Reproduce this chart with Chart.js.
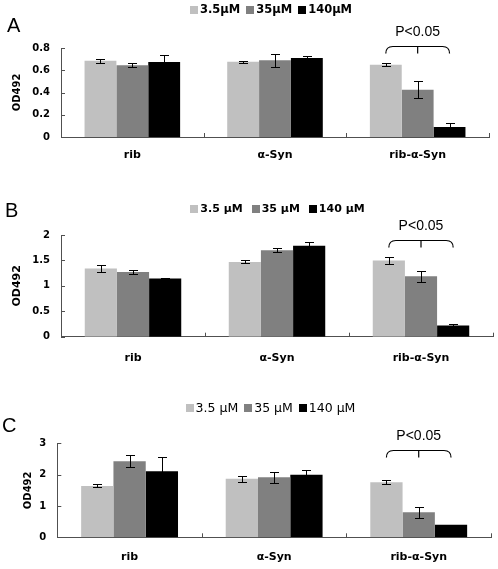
<!DOCTYPE html>
<html><head><meta charset="utf-8">
<script src="https://cdn.jsdelivr.net/npm/chart.js@4.4.0/dist/chart.umd.min.js"></script>
<style>
html,body{margin:0;padding:0;background:#fff;width:498px;height:569px;overflow:hidden;}
.panel{position:absolute;left:0;width:498px;}
.letter{position:absolute;font-family:"Liberation Sans",Arial,sans-serif;font-size:20px;color:#000;line-height:20px;}
canvas{display:block;}
</style></head><body>
<div class="panel" style="top:0;height:188px"><canvas id="cA" width="498" height="188"></canvas></div>
<div class="panel" style="top:188px;height:190px"><canvas id="cB" width="498" height="190"></canvas></div>
<div class="panel" style="top:378px;height:191px"><canvas id="cC" width="498" height="191"></canvas></div>
<div class="letter" style="left:7px;top:15px">A</div>
<div class="letter" style="left:5px;top:200px">B</div>
<div class="letter" style="left:2px;top:415px">C</div>
<script>
// ---------- data ----------
const categories = ['rib', 'α-Syn', 'rib-α-Syn'];
const seriesLabelsA = ['3.5μM', '35μM', '140μM'];
const seriesLabelsB = ['3.5 μM', '35 μM', '140 μM'];
const seriesLabelsC = ['3.5 μM', '35 μM', '140 μM'];
const yTitle = 'OD492';
const sigLabel = 'P<0.05';

// Panel A
const A_low = [0.685, 0.677, 0.650];
const A_lowErr = [0.020, 0.010, 0.012];
const A_mid = [0.645, 0.690, 0.425];
const A_midErr = [0.020, 0.060, 0.075];
const A_high = [0.675, 0.710, 0.090];
const A_highErr = [0.065, 0.022, 0.033];
const A_yTicks = [0, 0.2, 0.4, 0.6, 0.8];
const A_yTickLabels = ['0', '0.2', '0.4', '0.6', '0.8'];
const A_bracketLevel = 0.82;

// Panel B
const B_low = [1.34, 1.47, 1.50];
const B_lowErr = [0.075, 0.030, 0.075];
const B_mid = [1.27, 1.70, 1.19];
const B_midErr = [0.040, 0.040, 0.105];
const B_high = [1.145, 1.79, 0.22];
const B_highErr = [0.010, 0.080, 0.020];
const B_yTicks = [0, 0.5, 1, 1.5, 2];
const B_yTickLabels = ['0', '0.5', '1', '1.5', '2'];
const B_bracketLevel = 1.90;

// Panel C
const C_low = [1.64, 1.87, 1.76];
const C_lowErr = [0.05, 0.10, 0.06];
const C_mid = [2.43, 1.92, 0.80];
const C_midErr = [0.20, 0.18, 0.18];
const C_high = [2.11, 2.00, 0.40];
const C_highErr = [0.45, 0.14, 0.00];
const C_yTicks = [0, 1, 2, 3];
const C_yTickLabels = ['0', '1', '2', '3'];
const C_bracketLevel = 2.79;

// ---------- styling ----------
const colors = ['#c0c0c0', '#808080', '#000000'];
const axisColor = '#505050';
const FONT = '"DejaVu Sans", Verdana, sans-serif';

const errorBarPlugin = {
  id: 'errorBars',
  afterDatasetsDraw(chart) {
    const ctx = chart.ctx, y = chart.scales.y;
    ctx.save();
    ctx.strokeStyle = '#000';
    ctx.lineWidth = 1;
    chart.data.datasets.forEach((ds, i) => {
      const meta = chart.getDatasetMeta(i);
      meta.data.forEach((bar, j) => {
        const e = ds.errors[j];
        if (!e) return;
        const v = ds.data[j];
        const yt = Math.round(y.getPixelForValue(v + e)) + 0.5;
        const yb = Math.round(y.getPixelForValue(v - e)) + 0.5;
        const x = Math.round(bar.x) + 0.5;
        ctx.beginPath();
        ctx.moveTo(x, yt); ctx.lineTo(x, yb);
        ctx.moveTo(x - 4.5, yt); ctx.lineTo(x + 4.5, yt);
        ctx.moveTo(x - 4.5, yb); ctx.lineTo(x + 4.5, yb);
        ctx.stroke();
      });
    });
    ctx.restore();
  }
};

const innerTicksPlugin = {
  id: 'innerTicks',
  afterDraw(chart) {
    const ctx = chart.ctx, x = chart.scales.x, y = chart.scales.y, a = chart.chartArea;
    ctx.save();
    ctx.strokeStyle = axisColor;
    ctx.lineWidth = 1;
    ctx.beginPath();
    y.ticks.forEach(t => {
      const py = Math.round(y.getPixelForValue(t.value)) + 0.5;
      ctx.moveTo(a.left, py); ctx.lineTo(a.left + 4, py);
    });
    const n = chart.data.labels.length;
    for (let i = 0; i < n; i++) {
      let px;
      if (i < n - 1) px = (x.getPixelForValue(i) + x.getPixelForValue(i + 1)) / 2;
      else px = a.right;
      px = Math.round(px) + 0.5;
      ctx.moveTo(px, a.bottom); ctx.lineTo(px, a.bottom - 4);
    }
    ctx.stroke();
    ctx.restore();
  }
};

const bracketPlugin = {
  id: 'sigBracket',
  afterDraw(chart, args, opts) {
    const ctx = chart.ctx, y = chart.scales.y;
    const g = opts.group;
    const x0 = chart.getDatasetMeta(0).data[g].x;
    const x1 = chart.getDatasetMeta(1).data[g].x;
    const x2 = chart.getDatasetMeta(2).data[g].x;
    const yt = Math.round(y.getPixelForValue(opts.level)) + 0.5;
    const d = 7;
    ctx.save();
    ctx.strokeStyle = '#000';
    ctx.lineWidth = 1.2;
    ctx.beginPath();
    ctx.moveTo(x0, yt + d);
    ctx.quadraticCurveTo(x0, yt, x0 + d, yt);
    ctx.lineTo(x2 - d, yt);
    ctx.quadraticCurveTo(x2, yt, x2, yt + d);
    ctx.moveTo(x1, yt); ctx.lineTo(x1, yt + d);
    ctx.stroke();
    ctx.fillStyle = '#000';
    ctx.font = '14px "Liberation Sans", Arial, sans-serif';
    ctx.textAlign = 'center';
    ctx.textBaseline = 'middle';
    ctx.fillText(opts.text, x1, yt - 14);
    ctx.restore();
  }
};

const legendPlugin = {
  id: 'boxLegend',
  afterDraw(chart, args, opts) {
    const ctx = chart.ctx;
    ctx.save();
    ctx.font = opts.font;
    const box = 8, gapBT = 2, gapItem = opts.gap;
    const items = chart.data.datasets.map(ds => ({ label: ds.label, color: ds.backgroundColor, w: ctx.measureText(ds.label).width }));
    let total = items.reduce((s, it) => s + box + gapBT + it.w, 0) + gapItem * (items.length - 1);
    let x = opts.cx - total / 2;
    const cy = opts.cy;
    ctx.textBaseline = 'middle';
    ctx.textAlign = 'left';
    items.forEach(it => {
      ctx.fillStyle = it.color;
      ctx.fillRect(Math.round(x), Math.round(cy - box / 2), box, box);
      x += box + gapBT;
      ctx.fillStyle = '#000';
      ctx.fillText(it.label, x, cy + 0.5);
      x += it.w + gapItem;
    });
    ctx.restore();
  }
};

function makePanel(id, p) {
  const datasets = p.values.map((vals, i) => ({
    label: p.labels[i],
    data: vals,
    errors: p.errors[i],
    backgroundColor: colors[i],
    borderWidth: 0,
    barPercentage: 1.0,
    categoryPercentage: 0.67
  }));
  return new Chart(document.getElementById(id), {
    type: 'bar',
    data: { labels: categories, datasets },
    plugins: [errorBarPlugin, innerTicksPlugin, bracketPlugin, legendPlugin],
    options: {
      responsive: false,
      animation: false,
      events: [],
      layout: { padding: { top: p.padTop, left: p.padLeft, right: p.padRight, bottom: 0 } },
      plugins: {
        legend: { display: false },
        tooltip: { enabled: false },
        sigBracket: { group: 2, level: p.bracketLevel, text: sigLabel },
        boxLegend: { cx: p.legendCx, cy: p.legendCy, font: p.legendFont, gap: p.legendGap }
      },
      scales: {
        x: {
          grid: { display: false, drawTicks: false },
          border: { display: true, color: axisColor, width: 1 },
          ticks: { color: '#000', font: { family: FONT, size: 11, weight: 'bold' }, padding: p.xLabelPad },
          afterFit: s => { s.height = p.xHeight; }
        },
        y: {
          min: p.yTicks[0],
          max: p.yTicks[p.yTicks.length - 1],
          afterBuildTicks: s => { s.ticks = p.yTicks.map(v => ({ value: v })); },
          grid: { display: false, drawTicks: false },
          border: { display: true, color: axisColor, width: 1 },
          ticks: {
            color: '#000', font: { family: FONT, size: 10, weight: 'bold' }, padding: 11,
            callback: (v, i) => p.yTickLabels[i]
          },
          title: { display: true, text: yTitle, color: '#000', font: { family: FONT, size: p.titleSize, weight: 'bold' }, padding: { top: p.titlePad, bottom: 0 } },
          afterFit: s => { s.width = p.yWidth; }
        }
      }
    }
  });
}

makePanel('cA', {
  labels: seriesLabelsA,
  values: [A_low, A_mid, A_high],
  errors: [A_lowErr, A_midErr, A_highErr],
  yTicks: A_yTicks, yTickLabels: A_yTickLabels, bracketLevel: A_bracketLevel,
  padTop: 48, padLeft: 8, padRight: 9, yWidth: 53, xHeight: 51, xLabelPad: 12,
  titleSize: 10, titlePad: 3.5,
  legendCx: 271, legendCy: 10, legendFont: 'bold 11.5px ' + FONT, legendGap: 6
});
makePanel('cB', {
  labels: seriesLabelsB,
  values: [B_low, B_mid, B_high],
  errors: [B_lowErr, B_midErr, B_highErr],
  yTicks: B_yTicks, yTickLabels: B_yTickLabels, bracketLevel: B_bracketLevel,
  padTop: 47, padLeft: 8, padRight: 5, yWidth: 53, xHeight: 41.3, xLabelPad: 15,
  titleSize: 11, titlePad: 3,
  legendCx: 277.5, legendCy: 21, legendFont: 'bold 11px ' + FONT, legendGap: 9
});
makePanel('cC', {
  labels: seriesLabelsC,
  values: [C_low, C_mid, C_high],
  errors: [C_lowErr, C_midErr, C_highErr],
  yTicks: C_yTicks, yTickLabels: C_yTickLabels, bracketLevel: C_bracketLevel,
  padTop: 65.3, padLeft: 8, padRight: 7, yWidth: 49.3, xHeight: 31.7, xLabelPad: 13,
  titleSize: 10, titlePad: 14,
  legendCx: 270.5, legendCy: 30, legendFont: '12.5px ' + FONT, legendGap: 6
});
</script>
</body></html>
